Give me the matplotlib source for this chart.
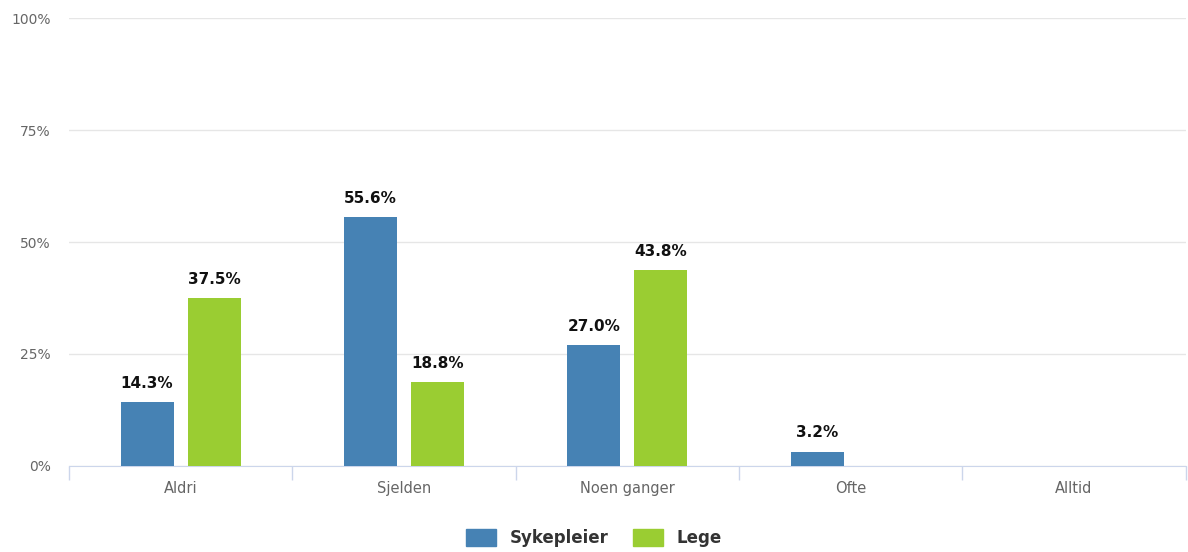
import numpy as np
import matplotlib.pyplot as plt
from matplotlib.patches import Patch

# data
categories = ["Aldri", "Sjelden", "Noen ganger", "Ofte", "Alltid"]
sykepleier = [14.3, 55.6, 27.0, 3.2, None]
lege = [37.5, 18.8, 43.8, None, None]
yticks = [0, 25, 50, 75, 100]
ytick_labels = ["0%", "25%", "50%", "75%", "100%"]

blue = "#4682b4"
green = "#9acd32"

fig = plt.figure(figsize=(11.88, 5.52), dpi=100)
ax = fig.add_axes([0.058, 0.156, 0.94, 0.811])

x = np.arange(len(categories))
width = 0.237
offset = 0.15

for vals, dx, color in [(sykepleier, -offset, blue), (lege, offset, green)]:
    for xi, v in zip(x, vals):
        if v is None:
            continue
        ax.bar(xi + dx, v, width=width, color=color, zorder=3)
        ax.text(xi + dx, v + 2.5, f"{v:.1f}%", ha="center", va="bottom",
                fontsize=11, fontweight="bold", color="#111111", zorder=4)

ax.set_xlim(-0.5, len(categories) - 0.5)
ax.set_ylim(0, 100)
ax.set_yticks(yticks)
ax.set_yticklabels(ytick_labels, fontsize=10, color="#666666")
ax.yaxis.grid(True, color="#e6e6e6", linewidth=1, zorder=0)
ax.tick_params(axis="y", length=0, pad=13)

ax.set_xticks(x)
ax.set_xticklabels(categories, fontsize=10.5, color="#666666")
ax.tick_params(axis="x", length=0, pad=11)
# category boundary ticks
ax.set_xticks(np.arange(-0.5, len(categories)), minor=True)
ax.tick_params(axis="x", which="minor", length=10, color="#ccd6eb", width=1)

for s in ["top", "right", "left"]:
    ax.spines[s].set_visible(False)
ax.spines["bottom"].set_color("#ccd6eb")

handles = [Patch(color=blue, label="Sykepleier"), Patch(color=green, label="Lege")]
fig.legend(handles=handles, loc="center", bbox_to_anchor=(0.5, 0.025), ncol=2,
           frameon=False, prop={"size": 12, "weight": "bold"},
           handlelength=1.8, handleheight=1.2, columnspacing=1.5, labelcolor="#333333")

fig.savefig("out.png", dpi=100)
